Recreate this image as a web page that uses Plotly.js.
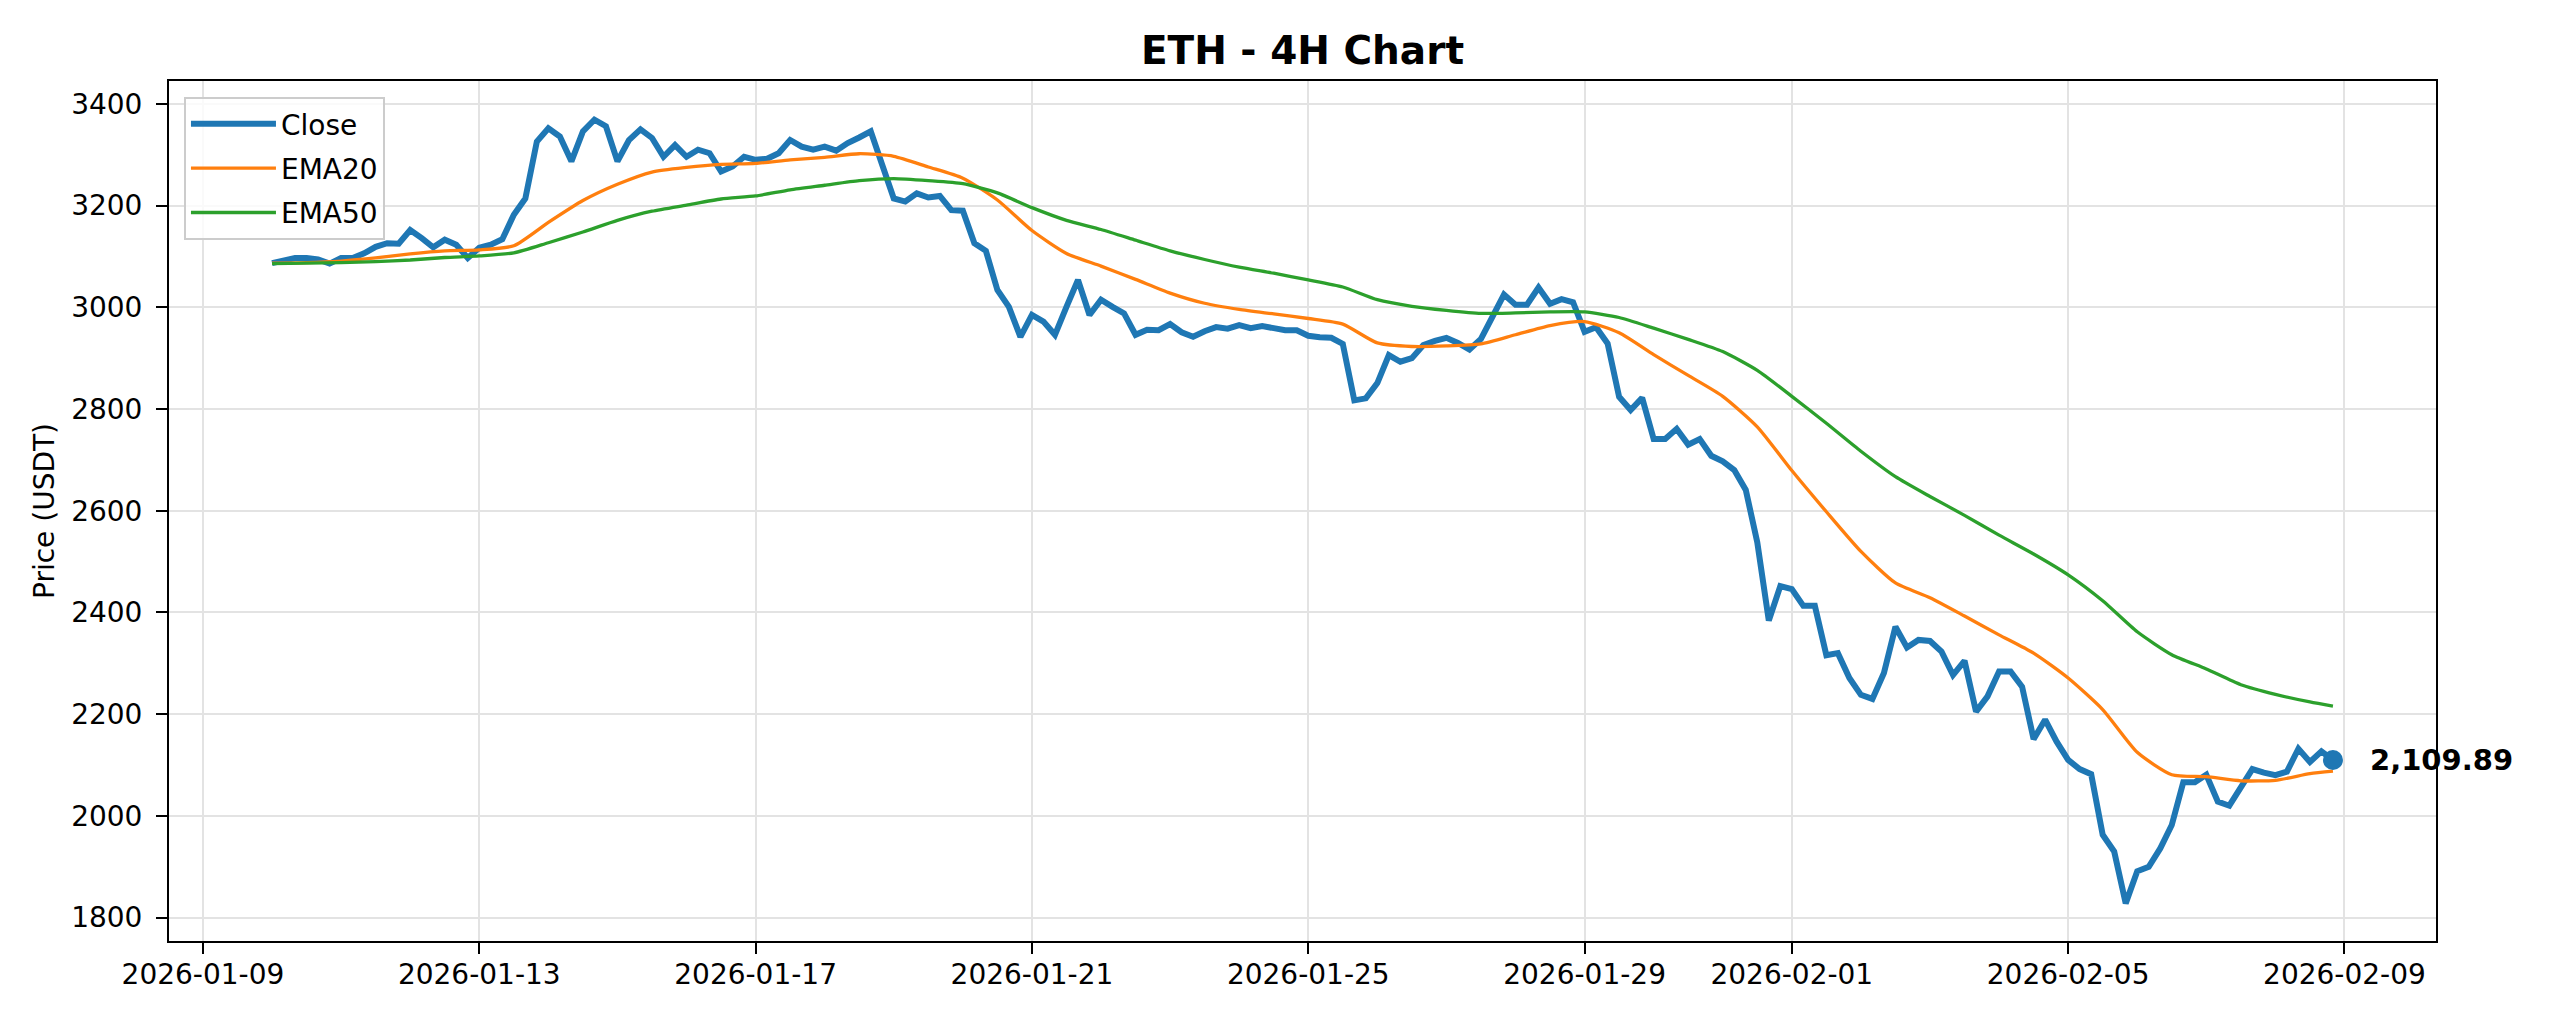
<!DOCTYPE html>
<html>
<head>
<meta charset="utf-8">
<script src="https://cdn.plot.ly/plotly-3.0.1.min.js"></script>
<style>
  body { margin: 0; background: #fff; }
  #chart { width: 2560px; height: 1024px; }
</style>
</head>
<body>
<div id="chart"></div>
<script>
// 4H candles, first close at 2026-01-10 00:00, one value per 4 hours
var startTime = '2026-01-10T00:00:00';
var stepHours = 4;

var closePrices = [
	3087, 3093, 3097, 3097, 3094, 3086, 3097, 3097, 3106, 3119,
	3126, 3125, 3152, 3136, 3118, 3133, 3123, 3097, 3117, 3123,
	3134, 3182, 3214, 3326, 3352, 3336, 3287, 3346, 3369, 3356,
	3287, 3329, 3350, 3333, 3296, 3319, 3296, 3310, 3303, 3267,
	3277, 3296, 3290, 3292, 3303, 3329, 3316, 3310, 3316, 3308,
	3323, 3334, 3346, 3280, 3214, 3208, 3224, 3216, 3219, 3191,
	3190, 3126, 3111, 3034, 3001, 2942, 2985, 2972, 2946, 3001,
	3054, 2985, 3015, 3001, 2988, 2946, 2956, 2955, 2967, 2951,
	2942, 2953, 2961, 2958, 2965, 2959, 2963, 2959, 2955, 2955,
	2944, 2941, 2940, 2928, 2817, 2821, 2851, 2906, 2893, 2900,
	2926, 2934, 2940, 2930, 2917, 2938, 2980, 3025, 3005, 3005,
	3039, 3007, 3016, 3010, 2952, 2961, 2929, 2824, 2798, 2822,
	2741, 2741, 2761, 2730, 2741, 2708, 2697, 2680, 2641, 2538,
	2384, 2452, 2446, 2413, 2413, 2316, 2320, 2271, 2238, 2230,
	2281, 2372, 2331, 2346, 2344, 2323, 2277, 2305, 2205, 2235,
	2284, 2284, 2254, 2151, 2189, 2146, 2110, 2092, 2082, 1963,
	1930, 1828, 1891, 1900, 1936, 1982, 2066, 2066, 2081, 2028,
	2020, 2057, 2092, 2085, 2080, 2087, 2132, 2106, 2127, 2109.89
];

// EMAs read every 3rd candle (last entry = final candle)
var ema20 = [
	3087, 3088, 3091, 3097, 3105, 3111, 3113, 3121, 3167, 3210,
	3242, 3266, 3275, 3281, 3283, 3290, 3295, 3302, 3297, 3276,
	3254, 3211, 3151, 3106, 3081, 3055, 3028, 3008, 2996, 2987,
	2978, 2967, 2930, 2923, 2924, 2928, 2946, 2964, 2972, 2950,
	2907, 2866, 2825, 2765, 2679, 2598, 2520, 2458, 2429, 2393,
	2356, 2320, 2271, 2209, 2125, 2081, 2077, 2069, 2070, 2083,
	2088
];
var ema50 = [
	3086, 3087, 3088, 3090, 3093, 3098, 3101, 3107, 3127, 3148,
	3171, 3189, 3201, 3213, 3219, 3231, 3240, 3249, 3253, 3249,
	3243, 3225, 3196, 3171, 3153, 3132, 3111, 3094, 3079, 3067,
	3054, 3040, 3015, 3002, 2994, 2988, 2989, 2991, 2991, 2980,
	2959, 2937, 2913, 2876, 2825, 2772, 2717, 2667, 2628, 2591,
	2552, 2515, 2474, 2423, 2362, 2317, 2289, 2258, 2239, 2224,
	2216
];

var tickDates = ['2026-01-09', '2026-01-13', '2026-01-17', '2026-01-21', '2026-01-25',
	'2026-01-29', '2026-02-01', '2026-02-05', '2026-02-09'];
var yTicks = [1800, 2000, 2200, 2400, 2600, 2800, 3000, 3200, 3400];

function pad(n) { return (n < 10 ? '0' : '') + n; }
function fmt(d) {
	return d.getUTCFullYear() + '-' + pad(d.getUTCMonth() + 1) + '-' + pad(d.getUTCDate()) +
		' ' + pad(d.getUTCHours()) + ':' + pad(d.getUTCMinutes());
}

var t0 = new Date(startTime + 'Z').getTime();
var times = closePrices.map(function (v, i) {
	return fmt(new Date(t0 + i * stepHours * 3600 * 1000));
});
var last = closePrices.length - 1;
var emaTimes = ema20.map(function (v, k) { return times[Math.min(k * 3, last)]; });

var fontFam = 'DejaVu Sans';

var data = [
	{
		x: times, y: closePrices, type: 'scatter', mode: 'lines',
		name: 'Close', legendgroup: 'a',
		line: {color: '#1f77b4', width: 6}
	},
	{
		x: emaTimes, y: ema20, type: 'scatter', mode: 'lines',
		name: 'EMA20', legendgroup: 'b',
		line: {color: '#ff7f0e', width: 3.3, shape: 'spline', smoothing: 0.6}
	},
	{
		x: emaTimes, y: ema50, type: 'scatter', mode: 'lines',
		name: 'EMA50', legendgroup: 'c',
		line: {color: '#2ca02c', width: 3.3, shape: 'spline', smoothing: 0.6}
	},
	{
		x: [times[last]], y: [closePrices[last]], type: 'scatter', mode: 'markers',
		showlegend: false,
		marker: {color: '#1f77b4', size: 20}
	}
];

var layout = {
	width: 2560,
	height: 1024,
	margin: {l: 169, r: 124, t: 81, b: 83},
	paper_bgcolor: '#ffffff',
	plot_bgcolor: '#ffffff',
	font: {family: fontFam, size: 28, color: '#000'},
	title: {
		text: 'ETH - 4H Chart',
		font: {family: fontFam, size: 39, color: '#000', weight: 'bold'},
		x: 0.5, xref: 'paper', xanchor: 'center',
		y: 1 - 50 / 1024, yref: 'container', yanchor: 'middle'
	},
	xaxis: {
		type: 'date',
		range: ['2026-01-08 12:12', '2026-02-10 07:48'],
		tickmode: 'array',
		tickvals: tickDates,
		ticktext: tickDates,
		ticks: 'outside', ticklen: 11, tickwidth: 2, tickcolor: '#000',
		ticklabelstandoff: -4,
		tickfont: {family: fontFam, size: 28, color: '#000'},
		showgrid: true, gridcolor: '#e3e3e3', gridwidth: 2,
		showline: true, mirror: true, linecolor: '#000', linewidth: 2,
		zeroline: false
	},
	yaxis: {
		range: [1754, 3445],
		tickmode: 'array',
		tickvals: yTicks,
		ticks: 'outside', ticklen: 11, tickwidth: 2, tickcolor: '#000',
		ticklabelstandoff: 8,
		tickfont: {family: fontFam, size: 28, color: '#000'},
		showgrid: true, gridcolor: '#e3e3e3', gridwidth: 2,
		showline: true, mirror: true, linecolor: '#000', linewidth: 2,
		zeroline: false,
		title: {text: 'Price (USDT)', font: {family: fontFam, size: 28, color: '#000'}, standoff: 8}
	},
	legend: {
		x: 0.0066, y: 0.9814, xanchor: 'left', yanchor: 'top',
		bgcolor: 'rgba(255,255,255,0.8)',
		bordercolor: '#cccccc', borderwidth: 2,
		font: {family: fontFam, size: 28, color: '#000'},
		itemwidth: 85,
		tracegroupgap: 5
	},
	annotations: [{
		x: times[last], y: closePrices[last], xref: 'x', yref: 'y',
		text: '<b>2,109.89</b>',
		showarrow: false, xanchor: 'left', yanchor: 'middle', xshift: 35,
		font: {family: fontFam, size: 29, color: '#000'}
	}],
	showlegend: true
};

Plotly.newPlot('chart', data, layout, {displayModeBar: false, staticPlot: true});
</script>
</body>
</html>
